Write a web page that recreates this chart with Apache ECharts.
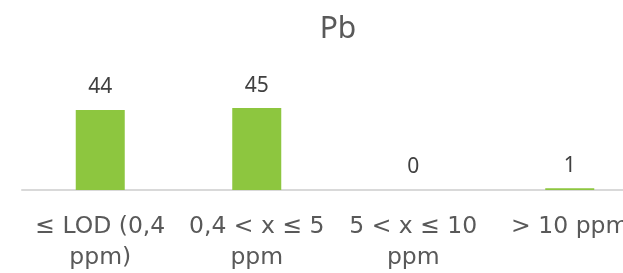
<!DOCTYPE html>
<html>
<head>
<meta charset="utf-8">
<script src="https://cdn.jsdelivr.net/npm/echarts@6/dist/echarts.min.js"></script>
<style>
  html, body { margin: 0; padding: 0; background: #fff; }
  #chart { width: 623px; height: 273px; }
</style>
</head>
<body>
<div id="chart"></div>
<script>
var categories = ['≤ LOD (0,4\nppm)', '0,4 < x ≤ 5\nppm', '5 < x ≤ 10\nppm', '> 10 ppm'];
var counts = [44, 45, 0, 1];

var myChart = echarts.init(document.getElementById('chart'));

var option = {
    animation: false,
    title: {
        text: 'Pb',
        left: 333,
        top: 9,
        textAlign: 'center',
        textStyle: {
            fontFamily: 'Noto Sans',
            fontSize: 30,
            fontWeight: 'normal',
            color: '#595959'
        }
    },
    grid: {
        left: 22,
        width: 626,
        top: 99,
        bottom: 83,
        containLabel: false,
        outerBoundsMode: 'none'
    },
    xAxis: {
        type: 'category',
        data: categories,
        axisLine: { lineStyle: { color: '#d9d9d9', width: 2 } },
        axisTick: { show: false },
        axisLabel: {
            interval: 0,
            margin: 21,
            fontFamily: 'DejaVu Sans',
            fontSize: 23.5,
            lineHeight: 31,
            color: '#595959'
        }
    },
    yAxis: {
        type: 'value',
        min: 0,
        max: 50,
        show: false,
        splitLine: { show: false }
    },
    series: [
        {
            type: 'bar',
            data: counts,
            barWidth: 49,
            itemStyle: { color: '#8dc63f' },
            label: {
                show: true,
                position: 'top',
                distance: 12,
                fontFamily: 'Noto Sans',
                fontSize: 21,
                color: '#404040'
            }
        }
    ]
};

myChart.setOption(option);
</script>
</body>
</html>
